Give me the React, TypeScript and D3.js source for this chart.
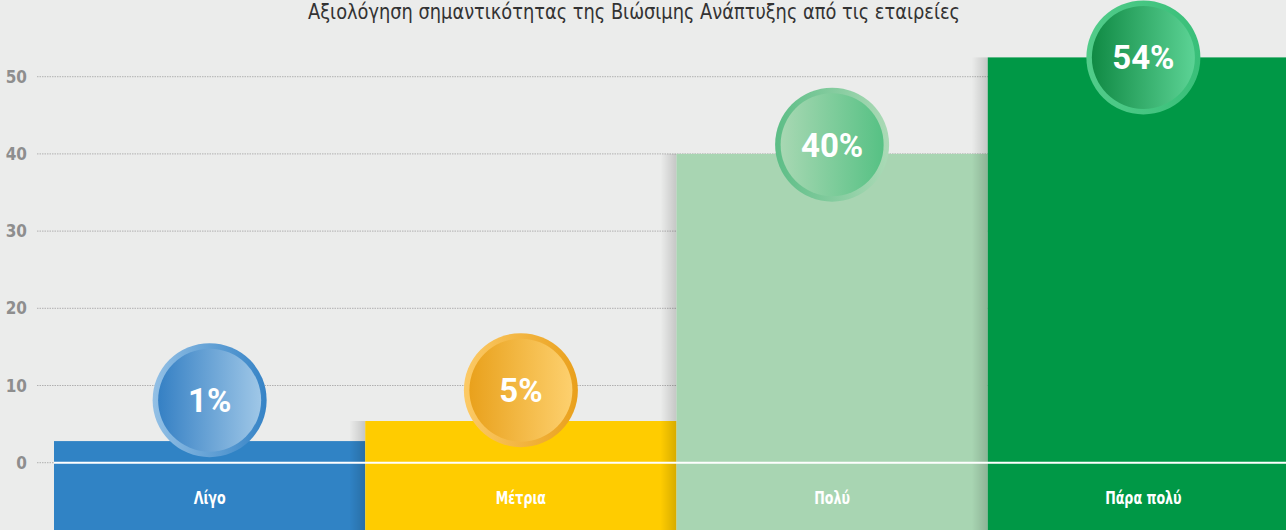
import React from "react";
import * as d3 from "d3";

const TITLE = "Αξιολόγηση σημαντικότητας της Βιώσιμης Ανάπτυξης από τις εταιρείες";
const categories = ["Λίγο", "Μέτρια", "Πολύ", "Πάρα πολύ"];
const barValues = [2.8, 5.4, 40, 52.5];
const badgeLabels = ["1%", "5%", "40%", "54%"];
const badgeAt = [8.1, 9.4, 41.2, 52.5];
const yTicks = [0, 10, 20, 30, 40, 50];

const barColors = ["#3083c5", "#ffcc00", "#a8d5b2", "#009846"];
const innerGrad = [
  ["#3580c4", "#9fc7e7"],
  ["#e9a11c", "#fdd06e"],
  ["#a8d8b3", "#56c184"],
  ["#108a44", "#5cd395"],
];
const ringGrad = [
  ["#93c0e5", "#3583c6"],
  ["#fcca66", "#e9a01c"],
  ["#5cbd86", "#abdab6"],
  ["#52cc8a", "#39bf79"],
];

const W = 1286;
const H = 530;
const NARROW = "'Liberation Sans Narrow', 'DejaVu Sans Condensed', 'Roboto', sans-serif";

export default function App() {
  const y = d3.scaleLinear().domain([0, 50]).range([462.7, 76.7]);
  const x = d3.scaleBand<string>().domain(categories).range([54, 1299]).padding(0);
  const bw = x.bandwidth();
  const R = 57;
  const ring = 5.5;

  return (
    <div style={{ position: "fixed", left: 0, top: 0 }}>
      <svg width={W} height={H} style={{ display: "block", background: "#ebeceb" }}>
        <defs>
          <linearGradient id="barShadow" x1="0" x2="1" y1="0" y2="0">
            <stop offset="0" stopColor="#000" stopOpacity={0} />
            <stop offset="1" stopColor="#000" stopOpacity={0.16} />
          </linearGradient>
          {categories.map((c, i) => (
            <React.Fragment key={c}>
              <linearGradient id={`inner${i}`} x1="0" x2="1" y1="0" y2="0">
                <stop offset="0" stopColor={innerGrad[i][0]} />
                <stop offset="1" stopColor={innerGrad[i][1]} />
              </linearGradient>
              <linearGradient id={`ring${i}`} x1="0" x2="1" y1="0" y2="0">
                <stop offset="0" stopColor={ringGrad[i][0]} />
                <stop offset="1" stopColor={ringGrad[i][1]} />
              </linearGradient>
            </React.Fragment>
          ))}
        </defs>

        <text
          x={634}
          y={19}
          textAnchor="middle"
          fontFamily={NARROW}
          fontSize={21}
          fill="#333"
          textLength={652}
          lengthAdjust="spacingAndGlyphs"
        >
          {TITLE}
        </text>

        {yTicks.map((t) => (
          <g key={t}>
            <line
              x1={37}
              x2={W}
              y1={y(t)}
              y2={y(t)}
              stroke="#b0b0b0"
              strokeWidth={1}
              strokeDasharray="1.5 1"
            />
            <text
              x={27}
              y={y(t) + 6}
              textAnchor="end"
              fontFamily={NARROW}
              fontWeight="bold"
              fontSize={17}
              fill="#8e8e8e"
            >
              {t}
            </text>
          </g>
        ))}

        {categories.map((c, i) => {
          const x0 = x(c)!;
          const top = y(barValues[i]);
          return (
            <g key={c}>
              {i > 0 && (
                <rect x={x0 - 16} y={top} width={16} height={H - top} fill="url(#barShadow)" />
              )}
              <rect x={x0} y={top} width={bw} height={H - top} fill={barColors[i]} />
            </g>
          );
        })}

        <line x1={54} x2={W} y1={y(0)} y2={y(0)} stroke="#fff" strokeWidth={2} />

        {categories.map((c, i) => {
          const cx = x(c)! + bw / 2;
          return (
            <g key={c} transform={`translate(${cx},504) scale(0.78,1)`}>
              <text
                x={0}
                y={0}
                textAnchor="middle"
                fontFamily={NARROW}
                fontWeight="bold"
                fontSize={18}
                fill="#fff"
              >
                {c}
              </text>
            </g>
          );
        })}

        {categories.map((c, i) => {
          const cx = x(c)! + bw / 2;
          const cy = y(badgeAt[i]);
          return (
            <g key={c}>
              <circle cx={cx} cy={cy} r={R} fill={`url(#ring${i})`} />
              <circle cx={cx} cy={cy} r={R - ring} fill={`url(#inner${i})`} />
              <text
                x={cx}
                y={cy + 12}
                textAnchor="middle"
                fontFamily="Roboto, sans-serif"
                fontWeight="bold"
                fontSize={33}
                fill="#fff"
              >
                {badgeLabels[i]}
              </text>
            </g>
          );
        })}
      </svg>
    </div>
  );
}
